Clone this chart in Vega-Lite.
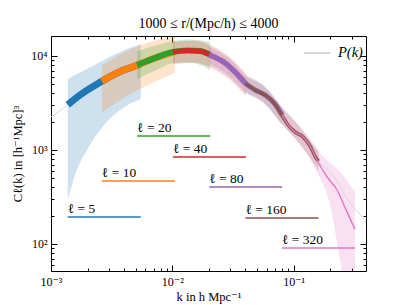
{
  "$schema": "https://vega.github.io/schema/vega-lite/v6.json",
  "width": 315,
  "height": 235,
  "autosize": {"type": "none"},
  "padding": {"left": 51, "top": 36, "right": 41, "bottom": 34},
  "background": "white",
  "config": {
    "view": {"stroke": "black", "strokeWidth": 1},
    "font": "Liberation Serif",
    "axis": {"grid": false, "domain": false, "tickColor": "black", "labelColor": "black", "titleColor": "black", "labelFont": "Liberation Serif, DejaVu Serif", "titleFont": "Liberation Serif, DejaVu Serif", "titleFontWeight": "normal"}
  },
  "title": {"text": "1000 ≤ r/(Mpc/h) ≤ 4000", "font": "Liberation Serif", "fontSize": 14, "fontWeight": "normal", "color": "black", "offset": 5},
  "datasets": {
    "pk": [
      {"k": 0.001, "C": 2244}, {"k": 0.001304, "C": 2866}, {"k": 0.001734, "C": 3846}, {"k": 0.002487, "C": 5164},
      {"k": 0.0035, "C": 6592}, {"k": 0.004925, "C": 7831}, {"k": 0.007198, "C": 9522}, {"k": 0.01013, "C": 11036},
      {"k": 0.01347, "C": 11443}, {"k": 0.01692, "C": 11300}, {"k": 0.02125, "C": 10000}, {"k": 0.0272, "C": 8425},
      {"k": 0.03415, "C": 6434}, {"k": 0.04052, "C": 5035}, {"k": 0.04808, "C": 4345}, {"k": 0.05808, "C": 3846},
      {"k": 0.06893, "C": 3162}, {"k": 0.0787, "C": 2415}, {"k": 0.0899, "C": 1845}, {"k": 0.1027, "C": 1554},
      {"k": 0.1196, "C": 1374}, {"k": 0.1365, "C": 1104}, {"k": 0.153, "C": 822}, {"k": 0.1748, "C": 676},
      {"k": 0.1995, "C": 583}, {"k": 0.2323, "C": 446}, {"k": 0.2704, "C": 316}, {"k": 0.3268, "C": 230},
      {"k": 0.3953, "C": 171}
    ],
    "bands": [
      {"l": 5, "k": 0.001375, "lo": 294, "hi": 5690}, {"l": 5, "k": 0.001577, "lo": 542, "hi": 6280},
      {"l": 5, "k": 0.001981, "lo": 1000, "hi": 7278}, {"l": 5, "k": 0.002535, "lo": 1633, "hi": 8630},
      {"l": 5, "k": 0.003706, "lo": 2664, "hi": 11030}, {"l": 5, "k": 0.0055, "lo": 3488, "hi": 13420},
      {"l": 10, "k": 0.002625, "lo": 2512, "hi": 7943}, {"l": 10, "k": 0.004153, "lo": 3708, "hi": 11166},
      {"l": 10, "k": 0.006549, "lo": 5037, "hi": 14090}, {"l": 10, "k": 0.0105, "lo": 6627, "hi": 16005},
      {"l": 20, "k": 0.005125, "lo": 5663, "hi": 11250}, {"l": 20, "k": 0.00792, "lo": 7398, "hi": 13320},
      {"l": 20, "k": 0.01013, "lo": 8425, "hi": 14440}, {"l": 20, "k": 0.014, "lo": 8507, "hi": 14940},
      {"l": 20, "k": 0.0205, "lo": 7054, "hi": 14010},
      {"l": 40, "k": 0.010125, "lo": 8221, "hi": 14090}, {"l": 40, "k": 0.01539, "lo": 8468, "hi": 14510},
      {"l": 40, "k": 0.02046, "lo": 7600, "hi": 13030}, {"l": 40, "k": 0.0299, "lo": 5608, "hi": 9616},
      {"l": 40, "k": 0.0405, "lo": 3753, "hi": 6434},
      {"l": 80, "k": 0.020125, "lo": 8260, "hi": 12530}, {"l": 80, "k": 0.0299, "lo": 6037, "hi": 9155},
      {"l": 80, "k": 0.0405, "lo": 4040, "hi": 6127}, {"l": 80, "k": 0.05811, "lo": 3087, "hi": 4680},
      {"l": 80, "k": 0.0805, "lo": 1858, "hi": 2833},
      {"l": 160, "k": 0.040125, "lo": 4101, "hi": 6218}, {"l": 160, "k": 0.05811, "lo": 3087, "hi": 4680},
      {"l": 160, "k": 0.0805, "lo": 1858, "hi": 2818}, {"l": 160, "k": 0.1129, "lo": 1158, "hi": 1757},
      {"l": 160, "k": 0.1605, "lo": 599, "hi": 978},
      {"l": 320, "k": 0.080125, "lo": 1891, "hi": 2867}, {"l": 320, "k": 0.1129, "lo": 1130, "hi": 1757},
      {"l": 320, "k": 0.1559, "lo": 583, "hi": 1000}, {"l": 320, "k": 0.1995, "lo": 260, "hi": 727},
      {"l": 320, "k": 0.2413, "lo": 67.6, "hi": 583}, {"l": 320, "k": 0.2809, "lo": 20, "hi": 457},
      {"l": 320, "k": 0.3205, "lo": 10, "hi": 357}
    ],
    "seg": [
      {"l": 5, "k": 0.001375, "C": 3026}, {"l": 5, "k": 0.001734, "C": 3846}, {"l": 5, "k": 0.002487, "C": 5164}, {"l": 5, "k": 0.0035, "C": 6592}, {"l": 5, "k": 0.004925, "C": 7831}, {"l": 5, "k": 0.0055, "C": 8279},
      {"l": 10, "k": 0.002625, "C": 5368}, {"l": 10, "k": 0.0035, "C": 6592}, {"l": 10, "k": 0.004925, "C": 7831}, {"l": 10, "k": 0.007198, "C": 9522}, {"l": 10, "k": 0.0105, "C": 11085},
      {"l": 20, "k": 0.005125, "C": 7982}, {"l": 20, "k": 0.007198, "C": 9522}, {"l": 20, "k": 0.01013, "C": 11036}, {"l": 20, "k": 0.01347, "C": 11443}, {"l": 20, "k": 0.01692, "C": 11300}, {"l": 20, "k": 0.0205, "C": 10300},
      {"l": 40, "k": 0.010125, "C": 11036}, {"l": 40, "k": 0.01347, "C": 11443}, {"l": 40, "k": 0.01692, "C": 11300}, {"l": 40, "k": 0.02125, "C": 10000}, {"l": 40, "k": 0.0272, "C": 8425}, {"l": 40, "k": 0.03415, "C": 6434}, {"l": 40, "k": 0.0405, "C": 5040},
      {"l": 80, "k": 0.020125, "C": 10300}, {"l": 80, "k": 0.0272, "C": 8425}, {"l": 80, "k": 0.03415, "C": 6434}, {"l": 80, "k": 0.04052, "C": 5035}, {"l": 80, "k": 0.04808, "C": 4345}, {"l": 80, "k": 0.05808, "C": 3846}, {"l": 80, "k": 0.06893, "C": 3162}, {"l": 80, "k": 0.0805, "C": 2362},
      {"l": 160, "k": 0.040125, "C": 5110}, {"l": 160, "k": 0.04808, "C": 4345}, {"l": 160, "k": 0.05808, "C": 3846}, {"l": 160, "k": 0.06893, "C": 3162}, {"l": 160, "k": 0.0787, "C": 2415}, {"l": 160, "k": 0.0899, "C": 1845}, {"l": 160, "k": 0.1027, "C": 1554}, {"l": 160, "k": 0.1196, "C": 1374}, {"l": 160, "k": 0.1365, "C": 1104}, {"l": 160, "k": 0.153, "C": 822}, {"l": 160, "k": 0.1605, "C": 760},
      {"l": 320, "k": 0.080125, "C": 2362}, {"l": 320, "k": 0.0899, "C": 1845}, {"l": 320, "k": 0.1027, "C": 1554}, {"l": 320, "k": 0.1196, "C": 1374}, {"l": 320, "k": 0.1365, "C": 1104}, {"l": 320, "k": 0.1559, "C": 783}, {"l": 320, "k": 0.1886, "C": 516}, {"l": 320, "k": 0.2279, "C": 375}, {"l": 320, "k": 0.2555, "C": 273}, {"l": 320, "k": 0.3088, "C": 159}, {"l": 320, "k": 0.3205, "C": 144}
    ],
    "labels": [
      {"l": 5, "k0": 0.001375, "k1": 0.0055, "C": 194, "txt": "ℓ = 5"},
      {"l": 10, "k0": 0.002625, "k1": 0.0105, "C": 468, "txt": "ℓ = 10"},
      {"l": 20, "k0": 0.005125, "k1": 0.0205, "C": 1409, "txt": "ℓ = 20"},
      {"l": 40, "k0": 0.010125, "k1": 0.0405, "C": 842, "txt": "ℓ = 40"},
      {"l": 80, "k0": 0.020125, "k1": 0.0805, "C": 404, "txt": "ℓ = 80"},
      {"l": 160, "k0": 0.040125, "k1": 0.1605, "C": 189, "txt": "ℓ = 160"},
      {"l": 320, "k0": 0.080125, "k1": 0.3205, "C": 90.7, "txt": "ℓ = 320"}
    ]
  },
  "layer": [
    {
      "data": {"name": "bands"},
      "mark": {"type": "area", "opacity": 0.22, "interpolate": "monotone", "clip": true},
      "encoding": {
        "x": {"field": "k", "type": "quantitative", "scale": {"type": "log", "domain": [0.001, 0.395], "nice": false},
          "axis": {"orient": "bottom", "title": "k in h Mpc⁻¹", "titleFontSize": 12.5, "titlePadding": 3,
            "values": [0.001,0.002,0.003,0.004,0.005,0.006,0.007,0.008,0.009,0.01,0.02,0.03,0.04,0.05,0.06,0.07,0.08,0.09,0.1,0.2,0.3],
            "labelExpr": "datum.value == 0.001 ? '10⁻³' : datum.value == 0.01 ? '10⁻²' : datum.value == 0.1 ? '10⁻¹' : ''",
            "tickSize": {"condition": {"test": "datum.value == 0.001 || datum.value == 0.01 || datum.value == 0.1", "value": -6}, "value": -3},
            "labelFontSize": 12, "labelPadding": 11, "labelFlush": false}},
        "y": {"field": "lo", "type": "quantitative", "scale": {"type": "log", "domain": [51.6, 16300], "nice": false},
          "axis": {"orient": "left", "title": "Cℓ(k) in [h⁻¹Mpc]³", "titleFontSize": 12.5, "titlePadding": 6,
            "values": [60,70,80,90,100,200,300,400,500,600,700,800,900,1000,2000,3000,4000,5000,6000,7000,8000,9000,10000],
            "labelExpr": "datum.value == 100 ? '10²' : datum.value == 1000 ? '10³' : datum.value == 10000 ? '10⁴' : ''",
            "tickSize": {"condition": {"test": "datum.value == 100 || datum.value == 1000 || datum.value == 10000", "value": -6}, "value": -3},
            "labelFontSize": 12, "labelPadding": 10, "labelFlush": false}},
        "y2": {"field": "hi"},
        "color": {"field": "l", "type": "nominal", "scale": {"domain": [5,10,20,40,80,160,320], "range": ["#1f77b4","#ff7f0e","#2ca02c","#d62728","#9467bd","#8c564b","#e377c2"]}, "legend": null}
      }
    },
    {
      "data": {"name": "pk"},
      "mark": {"type": "line", "strokeWidth": 1, "interpolate": "monotone", "clip": true},
      "encoding": {
        "x": {"field": "k", "type": "quantitative", "scale": {"type": "log", "domain": [0.001, 0.395], "nice": false},
          "axis": {"orient": "top", "title": null, "labels": false,
            "values": [0.001,0.002,0.003,0.004,0.005,0.006,0.007,0.008,0.009,0.01,0.02,0.03,0.04,0.05,0.06,0.07,0.08,0.09,0.1,0.2,0.3],
            "tickSize": {"condition": {"test": "datum.value == 0.001 || datum.value == 0.01 || datum.value == 0.1", "value": -6}, "value": -3}}},
        "y": {"field": "C", "type": "quantitative", "scale": {"type": "log", "domain": [51.6, 16300], "nice": false},
          "axis": {"orient": "right", "title": null, "labels": false,
            "values": [60,70,80,90,100,200,300,400,500,600,700,800,900,1000,2000,3000,4000,5000,6000,7000,8000,9000,10000],
            "tickSize": {"condition": {"test": "datum.value == 100 || datum.value == 1000 || datum.value == 10000", "value": -6}, "value": -3}}},
        "stroke": {"datum": "P(k)", "type": "nominal", "scale": {"domain": ["P(k)"], "range": ["#d8d8d8"]},
          "legend": {"orient": "top-right", "offset": 1, "title": null, "symbolType": "stroke", "symbolSize": 676, "symbolStrokeWidth": 2,
            "labelFont": "Liberation Serif", "labelFontSize": 14.5, "labelFontStyle": "italic", "labelColor": "black", "labelOffset": 7, "padding": 2}}
      }
    },
    {
      "data": {"name": "seg"},
      "mark": {"type": "line", "interpolate": "monotone", "strokeCap": "butt", "clip": true},
      "encoding": {
        "x": {"field": "k", "type": "quantitative", "axis": null},
        "y": {"field": "C", "type": "quantitative", "axis": null},
        "color": {"field": "l", "type": "nominal", "legend": null},
        "strokeWidth": {"field": "l", "type": "nominal", "scale": {"type": "ordinal", "domain": [5,10,20,40,80,160,320], "range": [7,7,6,5,5,3.5,1.4]}, "legend": null}
      }
    },
    {
      "data": {"name": "labels"},
      "mark": {"type": "rule", "strokeWidth": 1.5},
      "encoding": {
        "x": {"field": "k0", "type": "quantitative", "axis": null},
        "x2": {"field": "k1"},
        "y": {"field": "C", "type": "quantitative", "axis": null},
        "color": {"field": "l", "type": "nominal", "legend": null}
      }
    },
    {
      "data": {"name": "labels"},
      "mark": {"type": "text", "align": "left", "baseline": "alphabetic", "dy": -4, "fontSize": 13.5, "font": "Liberation Serif", "color": "black"},
      "encoding": {
        "x": {"field": "k0", "type": "quantitative", "axis": null},
        "y": {"field": "C", "type": "quantitative", "axis": null},
        "text": {"field": "txt"}
      }
    }
  ],
  "resolve": {"axis": {"x": "independent", "y": "independent"}}
}
